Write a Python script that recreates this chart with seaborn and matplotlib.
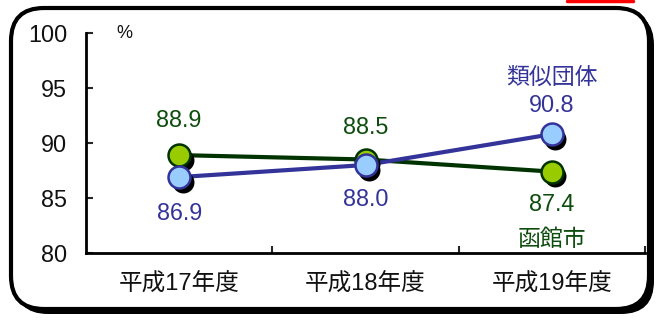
import matplotlib
matplotlib.use("Agg")
import matplotlib.pyplot as plt
import matplotlib.transforms as mtransforms
from matplotlib.patches import FancyBboxPatch
import seaborn as sns
import pandas as pd

categories = ["平成17年度", "平成18年度", "平成19年度"]
hakodate = [88.9, 88.5, 87.4]
ruiji = [86.9, 88.0, 90.8]
series_names = ["函館市", "類似団体"]
y_ticks = [80, 85, 90, 95, 100]

sns.set_theme(style="white")
plt.rcParams['font.family'] = ['Liberation Sans', 'Noto Sans CJK JP', 'DejaVu Sans']

fig = plt.figure(figsize=(6.6, 3.2), dpi=100)

# background frame with shadow
W, H = 660, 320
def px_box(x0, y0, x1, y1, **kw):
    return FancyBboxPatch((x0 / W, 1 - y1 / H), (x1 - x0) / W, (y1 - y0) / H,
                          boxstyle="round,pad=0,rounding_size=0.05",
                          transform=fig.transFigure, mutation_aspect=W / H, **kw)
fig.patches.append(px_box(15, 12, 654, 314, facecolor="black", edgecolor="black", lw=0, zorder=-2))
fig.patches.append(px_box(11, 8, 649, 309, facecolor="white", edgecolor="black", lw=3, zorder=-1))
fig.add_artist(plt.Line2D([567 / W, 633 / W], [1 - 1 / H, 1 - 1 / H], color="red", lw=2.5,
                          transform=fig.transFigure))

ax = fig.add_axes([86 / W, 1 - 253 / H, 559 / W, 220 / H])
ax.set_facecolor("none")
ax.set_zorder(1)

df = pd.DataFrame({
    "year": categories * 2,
    "value": hakodate + ruiji,
    "series": [series_names[0]] * 3 + [series_names[1]] * 3,
})
line_colors = {"函館市": "#003300", "類似団体": "#333399"}
fill_colors = {"函館市": "#99cc00", "類似団体": "#99ccff"}

sns.lineplot(data=df, x="year", y="value", hue="series", palette=line_colors,
             lw=3, legend=False, ax=ax, sort=False, zorder=2)

shadow = mtransforms.offset_copy(ax.transData, fig=fig, x=3.5, y=-4.5, units="dots")
for name in series_names:
    sub = df[df.series == name]
    sns.scatterplot(data=sub, x="year", y="value", color="black", s=250,
                    edgecolor="black", linewidth=0, ax=ax, transform=shadow,
                    legend=False, zorder=3)
for name in series_names:
    sub = df[df.series == name]
    sns.scatterplot(data=sub, x="year", y="value", color=fill_colors[name], s=250,
                    edgecolor=line_colors[name], linewidth=1.8, ax=ax,
                    legend=False, zorder=4)

ax.set_xlim(-0.5, 2.5)
ax.set_ylim(80, 100)
ax.set_yticks(y_ticks)
ax.set_xticks(range(3))
ax.set_xticklabels(categories, fontsize=17, color="#111111")
ax.tick_params(axis="y", labelsize=16.8, labelcolor="#111111", direction="in",
               length=5, width=1.5, left=True, pad=13.5)
ax.tick_params(axis="x", bottom=False, pad=9)
ax.set_xticks([0.5, 1.5, 2.5], minor=True)
ax.tick_params(axis="x", which="minor", direction="in", length=5, width=1.5, bottom=True)
ax.set_xlabel("")
ax.set_ylabel("")
for s in ["top", "right"]:
    ax.spines[s].set_visible(False)
for s in ["left", "bottom"]:
    ax.spines[s].set_color("black")
    ax.spines[s].set_linewidth(2)
ax.grid(False)

ax.text(0.054, 1.0, "%", transform=ax.transAxes, fontsize=13, ha="left", va="center",
        color="#111111")

green_txt = "#0d4d0d"
blue_txt = "#333399"
green_off = [25, 23, -24]
blue_off = [-26, -25, 21]
for i in range(3):
    ax.annotate(f"{hakodate[i]:.1f}", (i, hakodate[i]), xytext=(0, green_off[i]),
                textcoords="offset points", ha="center", va="center",
                fontsize=16.8, color=green_txt, zorder=5)
    ax.annotate(f"{ruiji[i]:.1f}", (i, ruiji[i]), xytext=(0, blue_off[i]),
                textcoords="offset points", ha="center", va="center",
                fontsize=16.8, color=blue_txt, zorder=5)
ax.annotate("類似団体", (2, ruiji[2]), xytext=(0, 41), textcoords="offset points",
            ha="center", va="center", fontsize=16.5, color=blue_txt,
            family=["Noto Sans CJK JP", "DejaVu Sans"])
ax.annotate("函館市", (2, hakodate[2]), xytext=(0, -49), textcoords="offset points",
            ha="center", va="center", fontsize=16.5, color=green_txt,
            family=["Noto Sans CJK JP", "DejaVu Sans"])

fig.savefig("out.png", dpi=100)
